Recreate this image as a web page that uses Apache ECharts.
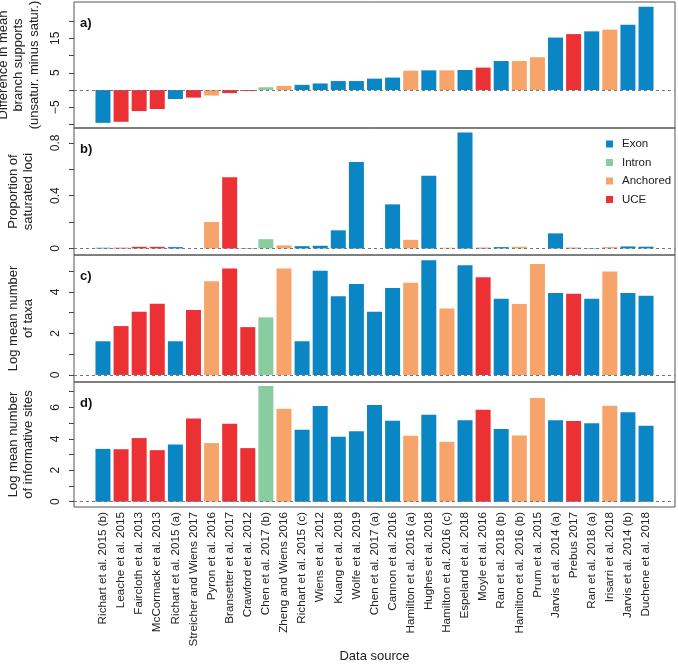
<!DOCTYPE html>
<html>
<head>
<meta charset="utf-8">
<script src="https://cdn.jsdelivr.net/npm/echarts@6/dist/echarts.min.js"></script>
<style>html,body{margin:0;padding:0;background:#fff}#c{width:678px;height:666px}</style>
</head>
<body>
<div id="c"></div>
<script>
const categories = [
  'Richart et al. 2015 (b)','Leache et al. 2015','Faircloth et al. 2013','McCormack et al. 2013',
  'Richart et al. 2015 (a)','Streicher and Wiens 2017','Pyron et al. 2016','Bransetter et al. 2017',
  'Crawford et al. 2012','Chen et al. 2017 (b)','Zheng and Wiens 2016','Richart et al. 2015 (c)',
  'Wiens et al. 2012','Kuang et al. 2018','Wolfe et al. 2019','Chen et al. 2017 (a)',
  'Cannon et al. 2016','Hamilton et al. 2016 (a)','Hughes et al. 2018','Hamilton et al. 2016 (c)',
  'Espeland et al. 2018','Moyle et al. 2016','Ran et al. 2018 (b)','Hamilton et al. 2016 (b)',
  'Prum et al. 2015','Jarvis et al. 2014 (a)','Prebus 2017','Ran et al. 2018 (a)',
  'Irisarri et al. 2018','Jarvis et al. 2014 (b)','Duchene et al. 2018'
];
const dataTypes = [
  'Exon','UCE','UCE','UCE','Exon','UCE','Anchored','UCE','UCE','Intron','Anchored','Exon',
  'Exon','Exon','Exon','Exon','Exon','Anchored','Exon','Anchored','Exon','UCE','Exon','Anchored',
  'Anchored','Exon','UCE','Exon','Anchored','Exon','Exon'
];
const diffSupport = [
  -9.5,-9.2,-6.1,-5.5,-2.6,-2.2,-1.6,-0.9,-0.3,0.8,1.2,1.5,1.9,2.6,2.6,3.3,
  3.6,5.6,5.7,5.7,5.8,6.5,8.4,8.4,9.5,15.2,16.2,17.0,17.5,18.9,24.1
];
const propSaturated = [
  0.005,0.005,0.012,0.012,0.01,0,0.20,0.54,0.003,0.07,0.023,0.017,0.02,0.137,0.655,0,
  0.334,0.065,0.55,0.005,0.878,0.005,0.01,0.012,0,0.114,0.005,0.003,0.01,0.015,0.013
];
const logTaxa = [
  1.62,2.35,3.04,3.42,1.62,3.12,4.51,5.12,2.30,2.77,5.12,1.62,5.01,3.79,4.38,3.04,
  4.18,4.43,5.52,3.20,5.28,4.70,3.66,3.41,5.34,3.94,3.90,3.66,4.98,3.94,3.81
];
const logSites = [
  3.36,3.34,4.05,3.28,3.64,5.30,3.73,4.96,3.41,7.36,5.92,4.58,6.09,4.13,4.49,6.15,
  5.15,4.19,5.53,3.81,5.19,5.85,4.62,4.21,6.60,5.19,5.13,5.00,6.11,5.70,4.83
];
const typeNames = ['Exon','Intron','Anchored','UCE'];
const typeColors = {Exon:'#0a86c4', Intron:'#88cca0', Anchored:'#f7a46a', UCE:'#ec3135'};

const yTitles = [
  'Difference in mean\nbranch supports\n(unsatur. minus satur.)',
  'Proportion of\nsaturated loci',
  'Log mean number\nof taxa',
  'Log mean number\nof informative sites'
];
const panelLetters = ['a)','b)','c)','d)'];
const yRanges = [[-11,25.5],[-0.05,0.913],[-0.34,5.77],[-0.34,7.62]];
const yTicks = [[-10,-5,0,5,10,15,20],[0,0.2,0.4,0.6,0.8],[0,1,2,3,4,5],[0,1,2,3,4,5,6,7]];
const yLabels = [[-5,5,15],[0,0.4,0.8],[0,2,4],[0,2,4,6]];
const panelValues = [diffSupport, propSaturated, logTaxa, logSites];

const FONT = 'Liberation Sans, Arial, Helvetica, sans-serif';
const gridTops = [2,128,255,382];
const gridHeights = [126,127,127,125];
const LH = 15.5;

const grids = [], xAxes = [], yAxes = [], series = [], titles = [];
for (let p = 0; p < 4; p++) {
  grids.push({left:74, right:3, top:gridTops[p], height:gridHeights[p], show:true,
    containLabel:false, outerBoundsMode:'none',
    borderColor:'#555', borderWidth:1, backgroundColor:'transparent'});
  const isLast = p === 3;
  xAxes.push({
    gridIndex:p, type:'value', min:-1.6, max:31.6, position:'bottom',
    axisLine:{show:false, onZero:false}, axisTick:{show:false}, splitLine:{show:false},
    axisLabel: isLast ? {
      show:true, customValues: categories.map((c,i)=>i), rotate:90, margin:5,
      fontSize:11.7, color:'#222', fontFamily:FONT,
      formatter: v => categories[Math.round(v)] || ''
    } : {show:false},
    name: isLast ? 'Data source' : '', nameLocation:'middle', nameGap:130,
    nameTextStyle:{fontSize:13, color:'#222', fontFamily:FONT}
  });
  const nLines = yTitles[p].split('\n').length;
  yAxes.push({
    gridIndex:p, type:'value', min:yRanges[p][0], max:yRanges[p][1], position:'left',
    axisLine:{show:false, onZero:false}, splitLine:{show:false},
    axisTick:{show:true, length:5, inside:false, customValues:yTicks[p], lineStyle:{color:'#444'}},
    axisLabel:{show:true, customValues:yLabels[p], rotate:90, margin:12, fontSize:12, color:'#222', fontFamily:FONT,
      formatter: v => (v < 0 ? '\u2212' + Math.abs(v) : String(v))},
    name: yTitles[p], nameLocation:'middle', nameRotate:90,
    nameGap: 74 - (21 + nLines * LH / 2),
    nameTextStyle:{fontSize:13, color:'#222', fontFamily:FONT, lineHeight:LH, align:'center'}
  });
  typeNames.forEach((t, k) => {
    const data = [];
    panelValues[p].forEach((v, i) => { if (dataTypes[i] === t) data.push([i, v]); });
    const s = {
      name:t, type:'bar', xAxisIndex:p, yAxisIndex:p, data:data, barWidth:15, barGap:'-100%',
      itemStyle:{color:typeColors[t]}, animation:false, silent:true
    };
    if (k === 0) {
      s.markLine = {silent:true, symbol:'none', label:{show:false},
        lineStyle:{type:[3,3], color:'#777', width:1}, data:[{yAxis:0}]};
    }
    series.push(s);
  });
  titles.push({text:panelLetters[p], left:80, top:gridTops[p] + 15, padding:0,
    textStyle:{fontSize:13, fontWeight:'bold', color:'#111', fontFamily:FONT}});
}

const chart = echarts.init(document.getElementById('c'), null, {renderer:'canvas'});
chart.setOption({
  animation:false,
  backgroundColor:'#fff',
  title: titles,
  legend:{data:typeNames, orient:'vertical', left:606, top:138, padding:0, itemWidth:7, itemHeight:7, itemGap:6.5,
    icon:'rect', selectedMode:false,
    textStyle:{fontSize:11.5, color:'#222', fontFamily:FONT, padding:[0,0,0,4]}},
  grid: grids, xAxis: xAxes, yAxis: yAxes, series: series
});
</script>
</body>
</html>
